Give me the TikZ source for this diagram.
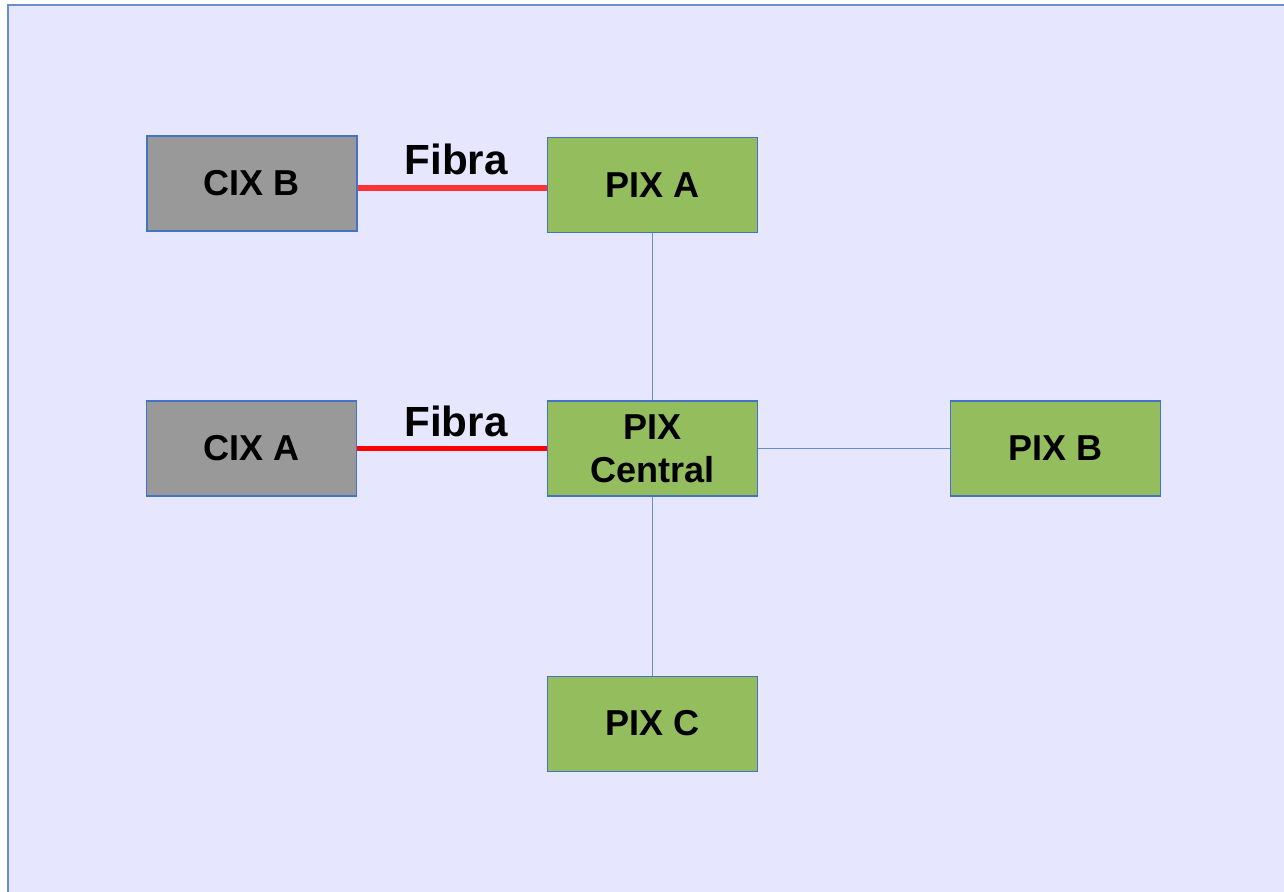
\documentclass[tikz,border=0pt]{standalone}
\usepackage{fontspec}
\setmainfont{Liberation Sans}
\usepackage{xcolor}
\usetikzlibrary{positioning}

\definecolor{lavender}{HTML}{E6E6FF}
\definecolor{frameblue}{HTML}{4472C4}
\definecolor{pixgreen}{HTML}{94BD5E}
\definecolor{cixgray}{HTML}{999999}

\begin{document}
\begin{tikzpicture}[
    box/.style={draw=frameblue, line width=0.6pt, minimum width=4.2cm, minimum height=1.9cm,
                font=\fontsize{20.5}{24.5}\selectfont\bfseries, align=center, inner sep=0pt},
    pix/.style={box, fill=pixgreen},
    cix/.style={box, fill=cixgray},
    link/.style={draw=frameblue!80, line width=0.6pt},
    fiber/.style={line width=3pt},
    fibretext/.style={font=\fontsize{24}{29}\selectfont\bfseries, text=black, inner sep=0pt, xshift=0.08cm},
]
\useasboundingbox (0,0) rectangle (25.68,-17.84);
% Background
\fill[lavender] (0.16,-0.1) rectangle (25.68,-17.84);
\draw[frameblue!80, line width=0.8pt] (0.16,-17.84) -- (0.16,-0.1) -- (25.68,-0.1);

% Nodes
\node[pix] (central) at (13.05,-8.97) {PIX\\Central};
\node[pix, above=3.34cm of central] (pixa) {PIX A};
\node[pix, right=3.84cm of central] (pixb) {PIX B};
\node[pix, below=3.58cm of central] (pixc) {PIX C};
\node[cix, left=3.8cm of central] (cixa) {CIX A};
\node[cix] (cixb) at (5.04,-3.67) {CIX B};

% Fibre links
\draw[fiber, color=red!80] (cixb.east |- 0,-3.76) coordinate (fb) -- (pixa.west |- fb)
    node[fibretext, midway, above=0.2cm] (fibrab) {Fibra};
\draw[fiber, color=red] (cixa) -- (central)
    node[fibretext, midway, above=0.17cm] (fibraa) {Fibra};

% Links
\draw[link] (pixa) -- (central);
\draw[link] (central) -- (pixb);
\draw[link] (central) -- (pixc);
\end{tikzpicture}
\end{document}
